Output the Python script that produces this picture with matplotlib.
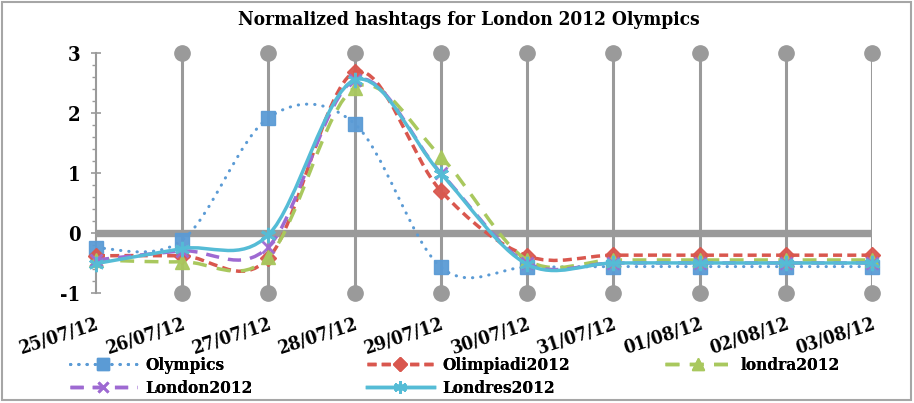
import matplotlib
matplotlib.use('Agg')
import matplotlib.pyplot as plt
from matplotlib.path import Path
from matplotlib.patches import PathPatch, Rectangle
from matplotlib.lines import Line2D

# values
dates = ['25/07/12', '26/07/12', '27/07/12', '28/07/12', '29/07/12',
         '30/07/12', '31/07/12', '01/08/12', '02/08/12', '03/08/12']
olympics = [-0.25, -0.12, 1.92, 1.82, -0.57, -0.57, -0.56, -0.56, -0.56, -0.56]
olimpiadi = [-0.38, -0.38, -0.42, 2.68, 0.70, -0.38, -0.37, -0.37, -0.37, -0.37]
londra = [-0.45, -0.48, -0.40, 2.42, 1.27, -0.45, -0.45, -0.45, -0.45, -0.45]
london = [-0.45, -0.30, -0.23, 2.55, 1.00, -0.50, -0.50, -0.50, -0.50, -0.50]
londres = [-0.51, -0.26, -0.03, 2.55, 0.99, -0.52, -0.50, -0.50, -0.50, -0.50]

series = [
    ('Olympics', olympics, '#5B9BD5', (0, (0.1, 2.6)), 's', 10),
    ('Olimpiadi2012', olimpiadi, '#D9574E', (0, (2.6, 1.5)), 'D', 8),
    ('londra2012', londra, '#A9C85E', (0, (4.0, 3.0)), '^', 10),
    ('London2012', london, '#9E6AD2', (0, (3.8, 2.6)), 'x', 8),
    ('Londres2012', londres, '#55BCD6', '-', (6, 2, 0), 11),
]

FONT = dict(family='DejaVu Serif', fontstretch='condensed', fontweight='bold')
GREY = '#9A9A9A'


def smooth_path(xs, ys):
    # excel-like smoothed line as cubic bezier segments through the points
    pts = list(zip(xs, ys))
    n = len(pts)
    verts = [pts[0]]
    codes = [Path.MOVETO]
    for i in range(n - 1):
        p0 = pts[i - 1] if i > 0 else pts[i]
        p1 = pts[i]
        p2 = pts[i + 1]
        p3 = pts[i + 2] if i + 2 < n else pts[i + 1]
        c1 = (p1[0] + (p2[0] - p0[0]) / 6, p1[1] + (p2[1] - p0[1]) / 6)
        c2 = (p2[0] - (p3[0] - p1[0]) / 6, p2[1] - (p3[1] - p1[1]) / 6)
        verts += [c1, c2, p2]
        codes += [Path.CURVE4] * 3
    return Path(verts, codes)


fig = plt.figure(figsize=(9.14, 4.03), dpi=100)
ax = fig.add_axes([0.105, 0.273, 0.849, 0.5955])
x = list(range(len(dates)))

# grey drop lines with round ends
ax.vlines(x[1:], -1, 3, color=GREY, lw=2.2, zorder=1)
ax.plot(x[1:], [3] * (len(x) - 1), 'o', color=GREY, ms=11, clip_on=False, zorder=1)
ax.plot(x[1:], [-1] * (len(x) - 1), 'o', color=GREY, ms=11, clip_on=False, zorder=1)
# horizontal axis sits at zero
ax.axhline(0, color=GREY, lw=5.3, zorder=1)

handles = []
for i, (name, vals, col, ls, mk, ms) in enumerate(series):
    lw = 2.2 if name == 'Olympics' else 2.5
    patch = PathPatch(smooth_path(x, vals), fill=False, edgecolor=col, lw=lw,
                      linestyle=ls, capstyle='round' if name == 'Olympics' else 'butt',
                      zorder=3 + i)
    ax.add_patch(patch)
    mew = 2 if mk in ('x', (6, 2, 0)) else 1
    ax.plot(x, vals, linestyle='none', marker=mk, ms=ms, color=col, mec=col,
            mew=mew, alpha=0.95, zorder=3 + i, clip_on=False)
    h = Line2D([], [], color=col, lw=lw, linestyle=ls, marker=mk, ms=ms * 0.85, mew=mew,
               dash_capstyle='round' if name == 'Olympics' else 'butt')
    handles.append(h)

ax.set_xlim(0, 9)
ax.set_ylim(-1, 3)
ax.set_xticks(x)
ax.set_xticklabels(dates, rotation=18, ha='right', rotation_mode='anchor', fontsize=13.5, **FONT)
ax.tick_params(axis='x', length=0, pad=16)
ax.set_yticks([-1, 0, 1, 2, 3])
ax.set_yticklabels(['-1', '0', '1', '2', '3'], fontsize=14.5, **FONT)
ax.set_yticks([i / 5 for i in range(-5, 16)], minor=True)
ax.tick_params(axis='y', which='major', direction='inout', length=6.5, width=1.2, color=GREY, pad=8)
ax.tick_params(axis='y', which='minor', direction='out', length=3, width=1.0, color=GREY)
for s in ['top', 'right', 'bottom']:
    ax.spines[s].set_visible(False)
ax.spines['left'].set_color(GREY)
ax.spines['left'].set_linewidth(1.5)

fig.text(0.513, 0.950, 'Normalized hashtags for London 2012 Olympics',
         ha='center', va='center', fontsize=13.7, **FONT)

# legend laid out in three columns like the original
leg_font = dict(family='DejaVu Serif', stretch='condensed', weight='bold', size=12.3)
cols = [([0, 3], 0.069), ([1, 4], 0.394), ([2], 0.720)]
for idx, xpos in cols:
    leg = fig.legend([handles[j] for j in idx], [series[j][0] for j in idx],
                     loc='upper left', bbox_to_anchor=(xpos, 0.130), frameon=False,
                     handlelength=3.9, handletextpad=0.5, labelspacing=0.3,
                     prop=leg_font, borderaxespad=0)
    fig.add_artist(leg)

fig.add_artist(Rectangle((0.002, 0.008), 0.995, 0.988, transform=fig.transFigure,
                         fill=False, edgecolor='#A6A6A6', lw=1.5))

fig.savefig('out.png', dpi=100)
